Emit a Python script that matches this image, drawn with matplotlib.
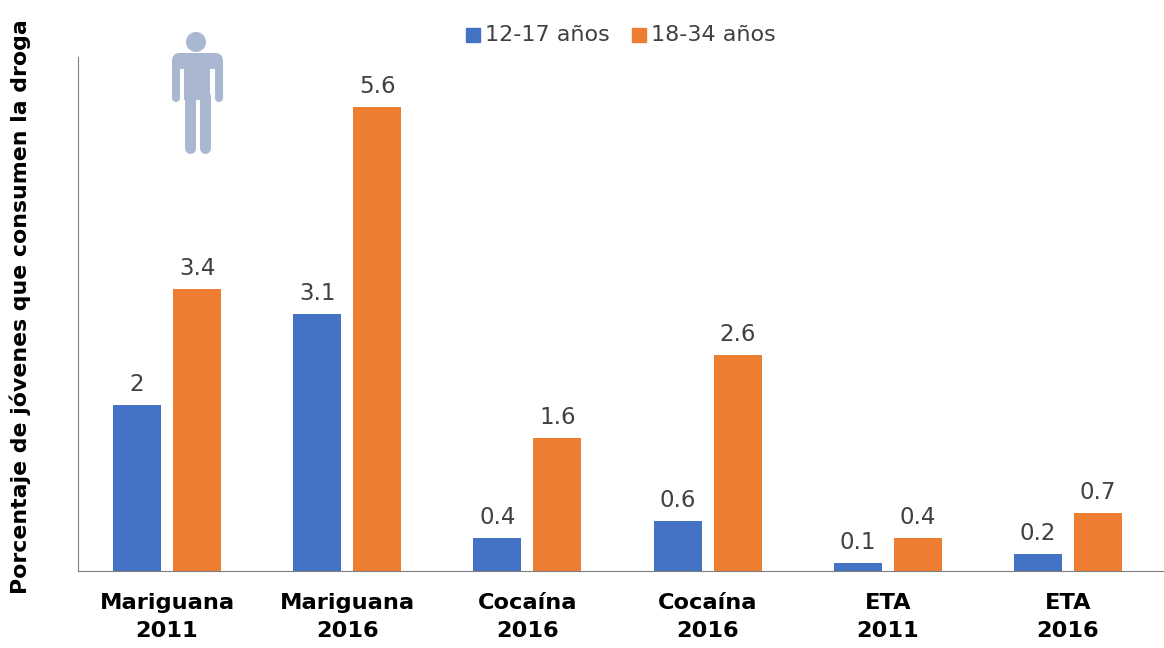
import matplotlib
matplotlib.use('Agg')
import numpy as np
import matplotlib.pyplot as plt
from matplotlib.patches import Circle, FancyBboxPatch, Rectangle

categories = ['Mariguana\n2011', 'Mariguana\n2016', 'Cocaína\n2016', 'Cocaína\n2016', 'ETA\n2011', 'ETA\n2016']
jovenes = [2, 3.1, 0.4, 0.6, 0.1, 0.2]
adultos = [3.4, 5.6, 1.6, 2.6, 0.4, 0.7]
etiquetas_j = ['2', '3.1', '0.4', '0.6', '0.1', '0.2']
etiquetas_a = ['3.4', '5.6', '1.6', '2.6', '0.4', '0.7']

plt.rcParams['font.family'] = ['DejaVu Sans']

fig = plt.figure(figsize=(11.64, 6.48), dpi=100)
ax = fig.add_axes([78/1164, 1-571/648, 1086/1164, (571-57)/648])

x = np.arange(len(categories))
paso = 180.2
w = 48/paso
sep = 30/paso
ax.bar(x-sep, jovenes, w, color='#4472c4')
ax.bar(x+sep, adultos, w, color='#ed7d31')

for i in range(len(x)):
    ax.text(x[i]-sep, jovenes[i]+0.11, etiquetas_j[i], ha='center', va='bottom', fontsize=16.5, color='#404040')
    ax.text(x[i]+sep, adultos[i]+0.11, etiquetas_a[i], ha='center', va='bottom', fontsize=16.5, color='#404040')

ax.set_xlim(-0.494, 5.533)
ax.set_ylim(0, 6.2)
ax.set_xticks(x)
ax.set_xticklabels(categories, fontsize=16.2, fontweight='bold', color='black', linespacing=1.56)
ax.tick_params(axis='x', length=0, pad=15.5)
ax.set_yticks([])
for s in ['top', 'right']:
    ax.spines[s].set_visible(False)
ax.spines['left'].set_color('#7f7f7f')
ax.spines['bottom'].set_color('#7f7f7f')

fig.text(20/1164, 1-307/648, 'Porcentaje de jóvenes que consumen la droga', rotation=90,
         ha='center', va='center', fontsize=15.8, fontweight='bold')

# leyenda
fig.add_artist(Rectangle((466/1164, 1-42/648), 14/1164, 14/648, transform=fig.transFigure, color='#4472c4'))
fig.add_artist(Rectangle((632/1164, 1-42/648), 14/1164, 14/648, transform=fig.transFigure, color='#ed7d31'))
fig.text(485/1164, 1-35/648, '12-17 años', va='center', fontsize=16, color='#404040')
fig.text(651/1164, 1-35/648, '18-34 años', va='center', fontsize=16, color='#404040')

# figura de persona, en pixeles
pic = fig.add_axes([0, 0, 1, 1], facecolor='none')
pic.set_xlim(0, 1164)
pic.set_ylim(648, 0)
pic.axis('off')
gris = '#a9b8d0'
pic.add_patch(Circle((196, 42), 10, color=gris, lw=0))
# hombros y torso
pic.add_patch(FancyBboxPatch((172, 53), 51, 24, boxstyle='round,pad=0,rounding_size=8', color=gris, lw=0))
pic.add_patch(Rectangle((180, 69), 4, 9, color='white', lw=0))
pic.add_patch(Rectangle((210, 69), 5, 9, color='white', lw=0))
pic.add_patch(Rectangle((184, 60), 26, 40, color=gris, lw=0))
# brazos y piernas
pic.plot([176, 176], [66, 98], color=gris, lw=5.8, solid_capstyle='round')
pic.plot([219, 219], [66, 98], color=gris, lw=5.8, solid_capstyle='round')
pic.plot([189.5, 189.5], [96, 148], color=gris, lw=7.9, solid_capstyle='round')
pic.plot([204.5, 204.5], [96, 148], color=gris, lw=7.9, solid_capstyle='round')

fig.savefig('out.png', dpi=100)
